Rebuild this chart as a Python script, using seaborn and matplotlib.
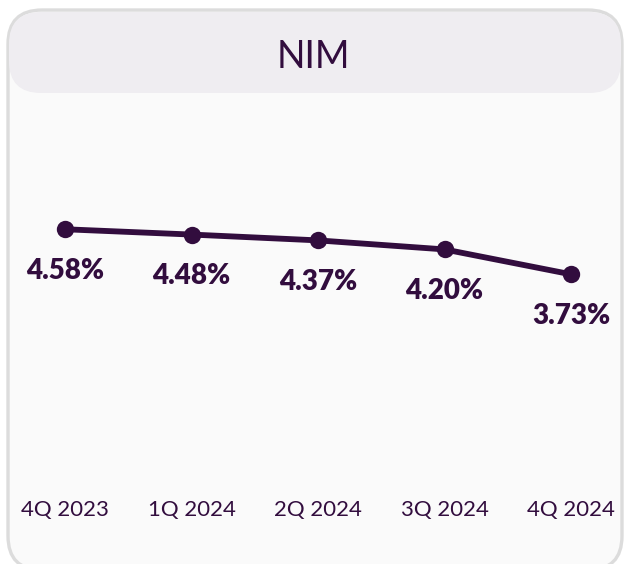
import matplotlib
matplotlib.use("Agg")
import matplotlib.pyplot as plt
from matplotlib.patches import FancyBboxPatch
import seaborn as sns
import pandas as pd

quarters = ["4Q 2023", "1Q 2024", "2Q 2024", "3Q 2024", "4Q 2024"]
nim = [4.58, 4.48, 4.37, 4.20, 3.73]
title = "NIM"

purple = "#320d3e"

sns.set_style("white")
plt.rcParams["font.family"] = ["Lato", "DejaVu Sans"]

W, H = 626, 564
fig = plt.figure(figsize=(W / 100, H / 100), dpi=100)
fig.patch.set_facecolor("white")

# background card, drawn in pixel coords
bg = fig.add_axes([0, 0, 1, 1])
bg.set_xlim(0, W)
bg.set_ylim(H, 0)
bg.axis("off")
card = FancyBboxPatch((8, 10), 614, 560, boxstyle="round,pad=0,rounding_size=34",
                      facecolor="#fafafa", edgecolor="#dcdcdc", linewidth=2.4)
bg.add_patch(card)
header = FancyBboxPatch((9, 12), 612, 81, boxstyle="round,pad=0,rounding_size=32",
                        facecolor="#efedf1", edgecolor="none")
bg.add_patch(header)
bg.text(W / 2, 57, title, ha="center", va="center", fontsize=27, color=purple)

# line chart
df = pd.DataFrame({"q": range(len(quarters)), "nim": nim})
ax = fig.add_axes([65 / W, (H - 472) / H, (571 - 65) / W, 371 / H])
ax.patch.set_alpha(0)
sns.lineplot(data=df, x="q", y="nim", ax=ax, color=purple, linewidth=4.2,
             marker="o", markersize=12.5, markeredgewidth=0, clip_on=False)
ax.set_xlim(0, len(quarters) - 1)
ax.set_ylim(0, 7)
for i, v in enumerate(nim):
    ax.annotate(f"{v:.2f}%", (i, v), xytext=(0, -30), textcoords="offset points",
                ha="center", va="center", fontsize=20, fontweight="heavy", color=purple)

ax.set_xticks(range(len(quarters)))
ax.set_xticklabels(quarters, fontsize=16, color=purple)
ax.tick_params(axis="x", length=0, pad=20)
ax.set_yticks([])
ax.set_xlabel("")
ax.set_ylabel("")
sns.despine(ax=ax, left=True, bottom=True)

fig.savefig("out.png", dpi=100)
